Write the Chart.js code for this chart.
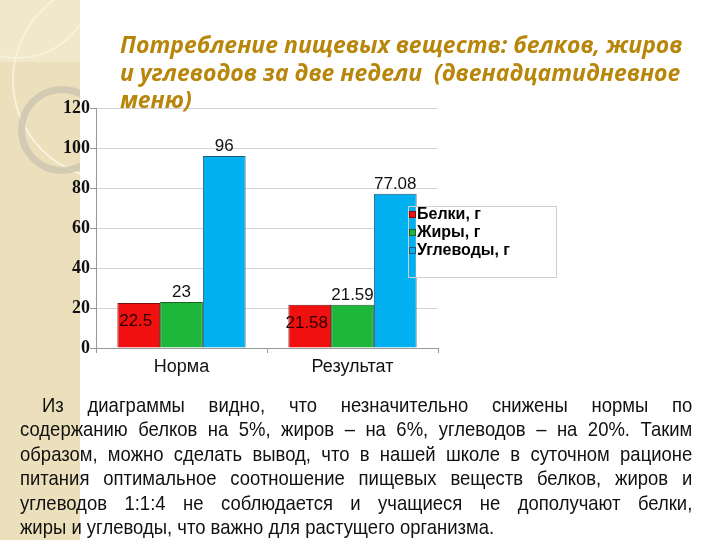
<!DOCTYPE html>
<html>
<head>
<meta charset="utf-8">
<script src="https://cdn.jsdelivr.net/npm/chart.js@4"></script>
<style>
  html, body { margin: 0; padding: 0; background: #fff; }
  #page { position: relative; width: 720px; height: 540px; overflow: hidden; background: #fff; }
  .strip { position: absolute; left: 0; top: 0; width: 80px; height: 540px; background: #ecdfbb; overflow: hidden; }
  .strip .sq { position: absolute; left: 0; top: 0; width: 80px; height: 62px; background: #f1e7cb; }
  .strip .arc { position: absolute; left: 12px; top: -20px; width: 196px; height: 196px; border-radius: 50%; border: 2px solid #f8f1de; }
  .strip .arc2 { position: absolute; left: -60px; top: -95px; width: 150px; height: 150px; border-radius: 50%; border: 2px solid #f8f1de; }
  .strip .ring { position: absolute; left: 18px; top: 86px; width: 74px; height: 74px; border-radius: 50%; border: 7px solid rgba(205,196,178,0.8); }
  #chartBox { position: absolute; left: 0; top: 0; width: 720px; height: 540px; }
  .title { position: absolute; left: 120px; top: 31px; font-family: "Open Sans", sans-serif; font-weight: bold; font-style: italic; font-size: 23px; line-height: 27.5px; color: #b8860b; white-space: nowrap; }
  .text { position: absolute; left: 20px; top: 393px; width: 764px; transform: scaleX(0.88); transform-origin: 0 0; font-family: "Liberation Sans", Arial, sans-serif; font-size: 21px; line-height: 24.4px; color: #111; }
  .text div { text-align: justify; text-align-last: justify; white-space: nowrap; }
  .text div.first { padding-left: 25px; }
  .text div.last { text-align-last: left; }
</style>
</head>
<body>
<div id="page">
  <div class="strip"><div class="sq"></div><div class="arc2"></div><div class="arc"></div><div class="ring"></div></div>
  <div id="chartBox"><canvas id="myChart" width="720" height="540"></canvas></div>
  <div class="title">Потребление пищевых веществ: белков, жиров<br>и углеводов за две недели&nbsp; (двенадцатидневное<br>меню)</div>
  <div class="text">
    <div class="first">Из диаграммы видно, что незначительно снижены нормы по</div>
    <div>содержанию белков на 5%, жиров – на 6%, углеводов – на 20%. Таким</div>
    <div>образом, можно сделать вывод, что в нашей школе в суточном рационе</div>
    <div>питания оптимальное соотношение пищевых веществ белков, жиров и</div>
    <div>углеводов 1:1:4 не соблюдается и учащиеся не дополучают белки,</div>
    <div class="last">жиры и углеводы, что важно для растущего организма.</div>
  </div>
</div>
<script>
'use strict'

// data

var categories = ["Норма", "Результат"];
var seriesNames = ["Белки, г", "Жиры, г", "Углеводы, г"];
var proteins = [22.5, 21.58];
var fats = [23, 21.59];
var carbs = [96, 77.08];
var yTicks = [0, 20, 40, 60, 80, 100, 120];

// value labels on bars (red ones sit inside the bar)

var barLabels = {
	id: 'barLabels',
	afterDatasetsDraw: function(chart) {
		var ctx = chart.ctx;
		ctx.save();
		ctx.font = '17px "Liberation Sans", Arial, sans-serif';
		ctx.textAlign = 'center';
		chart.data.datasets.forEach(function(ds, i) {
			chart.getDatasetMeta(i).data.forEach(function(bar, j) {
				var txt = String(ds.data[j]);
				if (i === 0) {
					ctx.fillStyle = '#2a0000';
					ctx.textBaseline = 'middle';
					ctx.fillText(txt, bar.x - 3, bar.y + 18);
				} else {
					ctx.fillStyle = '#111';
					ctx.textBaseline = 'bottom';
					ctx.fillText(txt, bar.x, bar.y - 1);
				}
			});
		});
		ctx.restore();
	}
};

// legend box drawn over the plot, like in the slide

var boxLegend = {
	id: 'boxLegend',
	afterDraw: function(chart) {
		var ctx = chart.ctx;
		var x = 408, y = 206, w = 148, h = 71;
		ctx.save();
		ctx.fillStyle = '#fff';
		ctx.fillRect(x + 8, y, w - 8, h);
		ctx.strokeStyle = '#cfcfcf';
		ctx.lineWidth = 1;
		ctx.strokeRect(x + 0.5, y + 0.5, w, h);
		ctx.font = 'bold 16px "Liberation Sans", Arial, sans-serif';
		ctx.textBaseline = 'middle';
		ctx.textAlign = 'left';
		chart.data.datasets.forEach(function(ds, i) {
			var cy = y + 9 + i * 18;
			ctx.fillStyle = ds.backgroundColor;
			ctx.fillRect(x + 1, cy - 4, 7, 7);
			ctx.strokeStyle = ds.borderColor;
			ctx.strokeRect(x + 1.5, cy - 3.5, 6, 6);
			ctx.fillStyle = '#000';
			ctx.fillText(ds.label, x + 9, cy);
		});
		ctx.restore();
	}
};

var ctx = document.getElementById('myChart').getContext('2d');

var chart = new Chart(ctx, {
	type: 'bar',
	data: {
		labels: categories,
		datasets: [{
			label: seriesNames[0],
			backgroundColor: '#f01010',
			borderColor: '#7a1010',
			data: proteins
		},
		{
			label: seriesNames[1],
			backgroundColor: '#1fb63c',
			borderColor: '#1d5e28',
			data: fats
		},
		{
			label: seriesNames[2],
			backgroundColor: '#00b0f0',
			borderColor: '#1f5a78',
			data: carbs
		}]
	},
	options: {
		responsive: false,
		animation: false,
		layout: { padding: { left: 56, top: 108, right: 282, bottom: 0 } },
		datasets: {
			bar: { borderWidth: 1, categoryPercentage: 0.75, barPercentage: 1 }
		},
		plugins: {
			legend: { display: false },
			tooltip: { enabled: false }
		},
		scales: {
			x: {
				afterFit: function(scale) { scale.height = 192; },
				grid: { offset: true, drawOnChartArea: false, color: '#999', tickLength: 5 },
				border: { color: '#999' },
				ticks: {
					color: '#111',
					padding: 3,
					font: { family: '"Liberation Sans", Arial, sans-serif', size: 18 }
				}
			},
			y: {
				min: 0,
				max: 120,
				afterFit: function(scale) { scale.width = 40; },
				afterBuildTicks: function(scale) {
					scale.ticks = yTicks.map(function(v) { return { value: v }; });
				},
				grid: { color: '#d4d4d4', tickLength: 6, tickColor: '#999' },
				border: { color: '#999' },
				ticks: {
					color: '#111',
					padding: 0,
					font: { family: '"Liberation Serif", "Times New Roman", serif', size: 18, weight: 'bold' }
				}
			}
		}
	},
	plugins: [barLabels, boxLegend]
});
</script>
</body>
</html>
